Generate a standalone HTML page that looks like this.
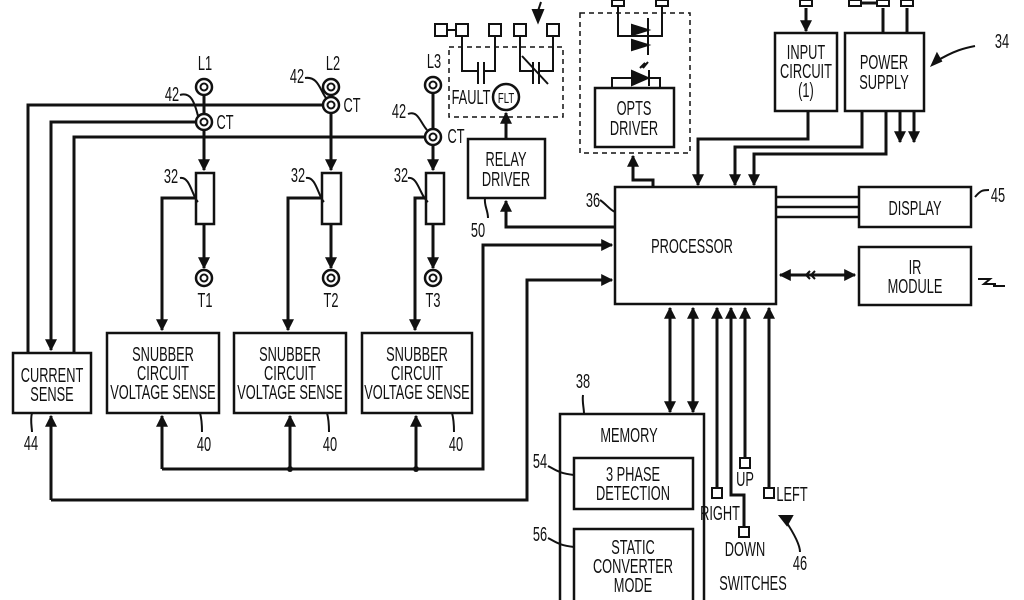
<!DOCTYPE html>
<html><head><meta charset="utf-8"><style>
html,body{margin:0;padding:0;background:#fff;}
svg{display:block;}
text{font-family:"Liberation Sans",sans-serif;font-size:20px;fill:#111;transform-box:fill-box;transform-origin:center;transform:scaleX(0.64);}
.t{text-anchor:middle;}
</style></head><body>
<svg width="1024" height="600" viewBox="0 0 1024 600" xmlns="http://www.w3.org/2000/svg">
<defs>
<marker id="a" viewBox="0 0 10 10" refX="9" refY="5" markerWidth="4" markerHeight="5" orient="auto-start-reverse" markerUnits="strokeWidth"><path d="M0,0 L10,5 L0,10 z" fill="#111"/></marker>
</defs>
<g stroke="#111" stroke-width="3" fill="none">
<line x1="204" y1="95" x2="204" y2="114"/>
<line x1="204" y1="130" x2="204" y2="170" marker-end="url(#a)"/>
<line x1="204" y1="224" x2="204" y2="268" marker-end="url(#a)"/>
<line x1="331" y1="113" x2="331" y2="170" marker-end="url(#a)"/>
<line x1="331" y1="224" x2="331" y2="268" marker-end="url(#a)"/>
<line x1="433" y1="93" x2="433" y2="129"/>
<line x1="433" y1="145" x2="433" y2="170" marker-end="url(#a)"/>
<line x1="433" y1="224" x2="433" y2="268" marker-end="url(#a)"/>
<polyline points="323,105 28,105 28,353"/>
<polyline points="196,122 51,122 51,350" marker-end="url(#a)"/>
<polyline points="425,137 74,137 74,353"/>
<polyline points="196,198 162,198 162,330" marker-end="url(#a)"/>
<polyline points="322,198 288,198 288,330" marker-end="url(#a)"/>
<polyline points="426,198 415,198 415,330" marker-end="url(#a)"/>
<line x1="162" y1="469" x2="162" y2="416" marker-end="url(#a)"/>
<line x1="290" y1="469" x2="290" y2="416" marker-end="url(#a)"/>
<line x1="416" y1="469" x2="416" y2="416" marker-end="url(#a)"/>
<polyline points="162,469 483,469 483,245 612,245" />
<line x1="590" y1="245" x2="612" y2="245" marker-end="url(#a)"/>
<polyline points="51,500 527,500 527,280 612,280"/>
<line x1="590" y1="280" x2="612" y2="280" marker-end="url(#a)"/>
<line x1="51" y1="500" x2="51" y2="416" marker-end="url(#a)"/>
<polyline points="615,227 506,227 506,201" marker-end="url(#a)"/>
<line x1="506" y1="139" x2="506" y2="113" marker-end="url(#a)"/>
<polyline points="653,187 653,180 633,180 633,156" marker-end="url(#a)"/>
<polyline points="808,111 808,139 698,139 698,185" marker-end="url(#a)"/>
<polyline points="862,111 862,147 735,147 735,185" marker-end="url(#a)"/>
<polyline points="886,111 886,154 754,154 754,185" marker-end="url(#a)"/>
<line x1="900" y1="111" x2="900" y2="142" marker-end="url(#a)"/>
<line x1="914" y1="111" x2="914" y2="142" marker-end="url(#a)"/>
<line x1="806" y1="8" x2="806" y2="31" marker-end="url(#a)"/>
<line x1="883" y1="8" x2="883" y2="33"/>
<line x1="907" y1="8" x2="907" y2="33"/>
<line x1="857" y1="3" x2="883" y2="3"/>
<line x1="776" y1="197" x2="859" y2="197" stroke-width="2.5"/>
<line x1="776" y1="207" x2="859" y2="207" stroke-width="2.5"/>
<line x1="776" y1="217" x2="859" y2="217" stroke-width="2.5"/>
<line x1="780" y1="275" x2="855" y2="275" marker-start="url(#a)" marker-end="url(#a)"/>
<line x1="670" y1="308" x2="670" y2="412" marker-start="url(#a)" marker-end="url(#a)"/>
<line x1="693" y1="308" x2="693" y2="412" marker-start="url(#a)" marker-end="url(#a)"/>
<line x1="717" y1="488" x2="717" y2="308" marker-end="url(#a)"/>
<polyline points="744,527 744,495 731,495 731,308" marker-end="url(#a)"/>
<line x1="745" y1="458" x2="745" y2="308" marker-end="url(#a)"/>
<line x1="769" y1="488" x2="769" y2="308" marker-end="url(#a)"/>
</g>
<g fill="#111"><circle cx="290" cy="469" r="3"/><circle cx="416" cy="469" r="3"/></g>
<g stroke="#111" stroke-width="2.5" fill="#fff">
<circle cx="204" cy="87" r="8"/><circle cx="204" cy="122" r="8"/>
<circle cx="331" cy="87" r="8"/><circle cx="331" cy="105" r="8"/>
<circle cx="433" cy="85" r="8"/><circle cx="433" cy="137" r="8"/>
<circle cx="204" cy="278" r="8"/><circle cx="331" cy="278" r="8"/><circle cx="433" cy="278" r="8"/>
</g>
<g stroke="#111" stroke-width="2" fill="#fff"><circle cx="204" cy="87" r="3.5"/><circle cx="204" cy="122" r="3.5"/><circle cx="331" cy="87" r="3.5"/><circle cx="331" cy="105" r="3.5"/><circle cx="433" cy="85" r="3.5"/><circle cx="433" cy="137" r="3.5"/><circle cx="204" cy="278" r="3.5"/><circle cx="331" cy="278" r="3.5"/><circle cx="433" cy="278" r="3.5"/></g>
<g stroke="#111" stroke-width="2.5" fill="#fff">
<rect x="196" y="173" width="18" height="51"/>
<rect x="322" y="173" width="19" height="51"/>
<rect x="426" y="173" width="18" height="51"/>
<rect x="13" y="353" width="78" height="60"/>
<rect x="107" y="333" width="112" height="80"/>
<rect x="234" y="333" width="112" height="80"/>
<rect x="362" y="333" width="110" height="80"/>
<rect x="468" y="139" width="77" height="59"/>
<rect x="615" y="187" width="161" height="117"/>
<rect x="595" y="88" width="79" height="59"/>
<rect x="775" y="33" width="62" height="78"/>
<rect x="845" y="33" width="79" height="78"/>
<rect x="859" y="187" width="112" height="40"/>
<rect x="859" y="247" width="112" height="58"/>
<rect x="560" y="414" width="144" height="200"/>
<rect x="574" y="458" width="119" height="51"/>
<rect x="574" y="529" width="119" height="80"/>
<circle cx="506" cy="97" r="13"/>
</g>
<g stroke="#111" stroke-width="1.5" fill="none" stroke-dasharray="5,4">
<rect x="449" y="47" width="114" height="70"/>
<rect x="580" y="13" width="110" height="140"/>
</g>
<g stroke="#111" stroke-width="2" fill="none">
<polyline points="462,35 462,71 478,71"/><polyline points="495,35 495,71 484,71"/>
<line x1="478" y1="62" x2="478" y2="84"/><line x1="484" y1="62" x2="484" y2="84"/>
<polyline points="520,35 520,71 533,71"/><polyline points="553,35 553,71 539,71"/>
<line x1="533" y1="62" x2="533" y2="84"/><line x1="539" y1="62" x2="539" y2="84"/>
<line x1="522" y1="56" x2="548" y2="84"/>
<line x1="441" y1="30" x2="456" y2="30"/>
<line x1="541" y1="2" x2="537" y2="14"/>
<path d="M533,10 L538,22 L543,10 z" fill="#111"/>
<polyline points="618,5 618,36 662,36 662,5"/>
<path d="M632,25 L648,30 L632,35 z" fill="#111"/>
<path d="M632,40 L648,45 L632,50 z" fill="#111"/>
<line x1="648" y1="18" x2="648" y2="55"/>
<polyline points="612,88 612,78 660,78 660,88"/>
<path d="M632,71 L648,78 L632,85 z" fill="#111"/>
<line x1="649" y1="70" x2="649" y2="86"/>
<path d="M640,68 L645,63 L643,68 L648,62"/>
<path d="M935,62 C955,50 965,48 975,46"/>
<path d="M932,65 l5,-11 l4,7 z" fill="#111"/>
<path d="M785,520 C795,535 800,545 800,552"/>
<path d="M780,516 l12,0 l-5,9 z" fill="#111"/>
<path d="M978,279 l12,0 l-6,5 l12,0"/>
<path d="M993,286 l12,0"/>
<path d="M810,271 l-4,4 l4,4 M815,271 l-4,4 l4,4"/>
<path d="M180,95 C190,92 194,100 198,116"/>
<path d="M305,78 C318,76 320,90 326,98"/>
<path d="M408,114 C418,110 420,122 427,130"/>
<path d="M180,178 C190,176 192,196 198,202"/>
<path d="M306,178 C316,176 318,196 324,202"/>
<path d="M408,178 C418,176 420,196 428,202"/>
<path d="M32,413 C30,420 32,428 32,432"/><path d="M200,413 C202,420 202,428 202,432"/><path d="M327,413 C329,420 329,428 329,432"/><path d="M452,413 C454,420 454,428 454,432"/>
<path d="M485,198 C484,206 488,210 488,218"/>
<path d="M600,200 C606,204 610,210 615,212"/>
<path d="M583,395 C582,402 584,408 584,414"/>
<path d="M548,466 C556,470 558,473 574,475"/>
<path d="M548,538 C556,542 558,545 574,547"/>
<path d="M975,197 C981,190 983,190 989,190"/>
</g>
<g stroke="#111" stroke-width="2" fill="#fff">
<rect x="435" y="24" width="12" height="12"/><rect x="456" y="24" width="12" height="12"/><rect x="489" y="24" width="12" height="12"/><rect x="514" y="24" width="12" height="12"/><rect x="547" y="24" width="12" height="12"/>
<rect x="612" y="0" width="12" height="6"/><rect x="656" y="0" width="12" height="6"/>
<rect x="800" y="0" width="12" height="6"/><rect x="849" y="0" width="12" height="6"/><rect x="877" y="0" width="12" height="6"/><rect x="901" y="0" width="12" height="6"/>
<rect x="712" y="488" width="10" height="10"/><rect x="740" y="458" width="10" height="10"/><rect x="764" y="488" width="10" height="10"/><rect x="739" y="527" width="10" height="10"/>
</g>
<g>
<text x="205" y="70" class="t">L1</text><text x="333" y="70" class="t">L2</text><text x="434" y="68" class="t">L3</text>
<text x="172" y="101" class="t">42</text><text x="297" y="83" class="t">42</text><text x="399" y="118" class="t">42</text>
<text x="225" y="129" class="t">CT</text><text x="352" y="112" class="t">CT</text><text x="456" y="143" class="t">CT</text>
<text x="171" y="183" class="t">32</text><text x="298" y="182" class="t">32</text><text x="401" y="182" class="t">32</text>
<text x="205" y="307" class="t">T1</text><text x="331" y="307" class="t">T2</text><text x="433" y="307" class="t">T3</text>
<text x="52" y="382" class="t">CURRENT</text><text x="52" y="401" class="t">SENSE</text>
<text x="163" y="361" class="t">SNUBBER</text><text x="163" y="380" class="t">CIRCUIT</text><text x="163" y="399" class="t">VOLTAGE SENSE</text>
<text x="290" y="361" class="t">SNUBBER</text><text x="290" y="380" class="t">CIRCUIT</text><text x="290" y="399" class="t">VOLTAGE SENSE</text>
<text x="417" y="361" class="t">SNUBBER</text><text x="417" y="380" class="t">CIRCUIT</text><text x="417" y="399" class="t">VOLTAGE SENSE</text>
<text x="31" y="450" class="t">44</text><text x="204" y="451" class="t">40</text><text x="330" y="451" class="t">40</text><text x="456" y="451" class="t">40</text>
<text x="506" y="166" class="t">RELAY</text><text x="506" y="186" class="t">DRIVER</text>
<text x="478" y="237" class="t">50</text>
<text x="471" y="104" class="t">FAULT</text><text x="506" y="103" class="t" style="font-size:15px">FLT</text>
<text x="634" y="115" class="t">OPTS</text><text x="634" y="135" class="t">DRIVER</text>
<text x="806" y="59" class="t">INPUT</text><text x="806" y="78" class="t">CIRCUIT</text><text x="806" y="97" class="t">(1)</text>
<text x="884" y="69" class="t">POWER</text><text x="884" y="89" class="t">SUPPLY</text>
<text x="1002" y="48" class="t">34</text>
<text x="593" y="207" class="t">36</text>
<text x="692" y="253" class="t">PROCESSOR</text>
<text x="915" y="215" class="t">DISPLAY</text>
<text x="998" y="202" class="t">45</text>
<text x="915" y="274" class="t">IR</text><text x="915" y="293" class="t">MODULE</text>
<text x="583" y="388" class="t">38</text>
<text x="629" y="442" class="t">MEMORY</text>
<text x="540" y="468" class="t">54</text><text x="540" y="541" class="t">56</text>
<text x="633" y="481" class="t">3 PHASE</text><text x="633" y="500" class="t">DETECTION</text>
<text x="633" y="554" class="t">STATIC</text><text x="633" y="573" class="t">CONVERTER</text><text x="633" y="592" class="t">MODE</text>
<text x="745" y="486" class="t">UP</text>
<text x="720" y="520" class="t">RIGHT</text>
<text x="792" y="501" class="t">LEFT</text>
<text x="745" y="556" class="t">DOWN</text>
<text x="753" y="590" class="t">SWITCHES</text>
<text x="800" y="570" class="t">46</text>
</g>
</svg>
</body></html>
